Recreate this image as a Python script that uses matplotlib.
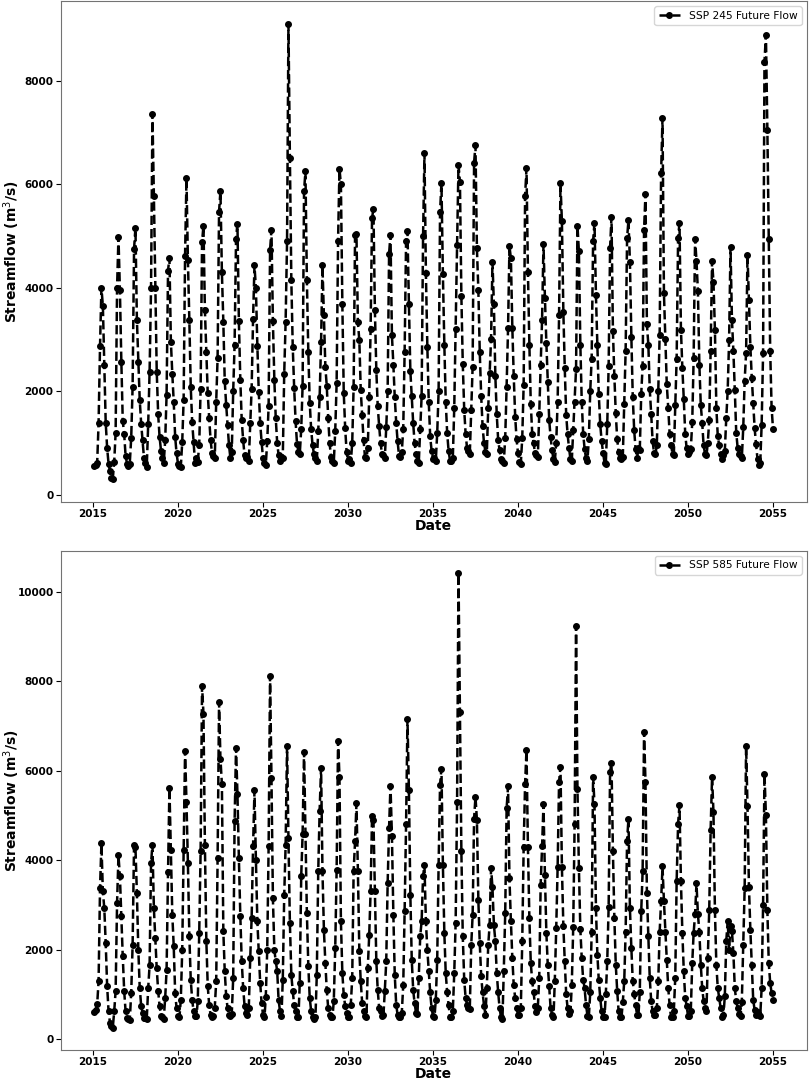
import numpy as np
import pandas as pd
import matplotlib
matplotlib.use("Agg")
import matplotlib.pyplot as plt

# monthly streamflow (m3/s), one row per year 2015..2054, Jan..Dec
YEARS = list(range(2015, 2055))

ssp245_flow = [
    [550, 580, 620, 1380, 2870, 4000, 3650, 2500, 1390, 900, 600, 450],    # 2015
    [330, 300, 640, 1190, 4000, 4980, 3950, 2570, 1430, 1170, 750, 600],
    [560, 600, 1100, 2090, 4750, 5160, 3380, 2570, 1830, 1370, 1050, 700],
    [620, 540, 1370, 2380, 4000, 7360, 5780, 4000, 2380, 1550, 1120, 850],
    [700, 620, 1050, 1930, 4330, 4580, 2960, 2330, 1800, 1120, 800, 600],
    [560, 530, 1020, 1830, 4620, 6120, 4530, 3370, 2080, 1400, 1020, 620],  # 2020
    [700, 640, 960, 2040, 4880, 5200, 3570, 2760, 1960, 1480, 1060, 800],
    [750, 700, 1800, 2650, 5470, 5870, 4300, 3340, 2200, 1740, 1350, 950],
    [700, 820, 2000, 2900, 4950, 5240, 3350, 2220, 1440, 1050, 760, 700],
    [720, 650, 1380, 2050, 3400, 4430, 3990, 2880, 1990, 1380, 1020, 700],
    [620, 580, 1030, 1710, 4730, 5120, 3350, 2220, 1480, 1000, 770, 650],   # 2025
    [730, 700, 2340, 3330, 4900, 9100, 6510, 4140, 2860, 2060, 1430, 980],
    [830, 780, 1260, 2100, 5870, 6250, 4140, 2750, 1780, 1260, 960, 780],
    [700, 650, 1230, 1880, 2950, 4430, 3470, 2470, 2100, 1490, 1000, 720],
    [660, 620, 1230, 2150, 4900, 6300, 6000, 3680, 1970, 1280, 830, 660],
    [690, 620, 1000, 2080, 5020, 5030, 3330, 2980, 2020, 1530, 1050, 720],  # 2030
    [700, 900, 1880, 3200, 5350, 5520, 3570, 2400, 1710, 1320, 1000, 780],
    [760, 700, 1300, 2000, 4660, 5020, 3080, 2510, 1880, 1390, 1030, 750],
    [720, 820, 1270, 2760, 4900, 5100, 3680, 2390, 1900, 1380, 1000, 780],
    [660, 620, 1260, 1900, 4990, 6600, 4280, 2860, 1800, 1130, 850, 680],
    [700, 650, 1190, 2000, 5470, 6020, 4260, 2900, 1800, 1190, 850, 660],   # 2035
    [660, 700, 1680, 3200, 4830, 6380, 6050, 3840, 2530, 1640, 1180, 900],
    [850, 790, 1640, 2470, 6420, 6750, 4760, 3950, 2760, 1900, 1320, 990],
    [830, 780, 1680, 2350, 3010, 4500, 3680, 2290, 1550, 1050, 860, 690],
    [660, 620, 1100, 2090, 3220, 4800, 4570, 3220, 2290, 1510, 1070, 800],
    [640, 600, 1100, 2120, 5770, 6310, 4300, 2900, 1760, 1180, 990, 800],   # 2040
    [760, 720, 1560, 2500, 3380, 4850, 3810, 2930, 2170, 1440, 1110, 860],
    [680, 640, 1000, 1800, 3470, 6020, 5280, 3540, 2450, 1540, 1170, 900],
    [680, 650, 1250, 1800, 2430, 5200, 4700, 2900, 1800, 1180, 890, 700],
    [660, 1070, 2010, 2630, 4900, 5260, 3860, 2900, 1940, 1360, 1040, 810],
    [620, 600, 1360, 2490, 4770, 5370, 3160, 2290, 1570, 1070, 820, 700],   # 2045
    [680, 720, 1760, 2780, 4960, 5310, 4500, 3050, 1890, 1240, 880, 700],
    [900, 860, 1950, 2490, 5120, 5820, 3290, 2900, 2040, 1560, 1040, 810],
    [780, 960, 2000, 3090, 6210, 7280, 3890, 3000, 2130, 1680, 1180, 960],
    [790, 760, 1730, 2630, 4960, 5250, 3190, 2440, 1850, 1180, 900, 790],
    [820, 880, 1400, 2640, 4950, 4520, 3930, 2510, 1740, 1390, 950, 790],   # 2050
    [760, 1000, 1440, 2770, 4520, 4110, 3190, 1680, 1140, 950, 790, 680],
    [760, 850, 1480, 2000, 2990, 4790, 3380, 2770, 2030, 1200, 910, 790],
    [750, 700, 1300, 2200, 2740, 4640, 3770, 2860, 2260, 1780, 1290, 970],
    [690, 580, 620, 1350, 2740, 8370, 8890, 7050, 4950, 2770, 1680, 1260],
]

ssp585_flow = [
    [600, 640, 780, 1290, 3370, 4375, 3300, 2920, 2140, 1180, 620, 360],   # 2015
    [290, 250, 620, 1070, 3040, 4110, 3640, 2750, 1850, 1070, 620, 470],
    [450, 420, 1030, 2100, 4350, 4290, 3260, 1990, 1140, 740, 580, 470],
    [470, 450, 1140, 1650, 3930, 4350, 2920, 2250, 1580, 1070, 740, 510],
    [480, 450, 920, 1540, 3730, 5620, 4220, 2770, 2080, 1030, 690, 510],
    [480, 870, 1990, 4220, 6450, 5310, 3930, 2300, 1320, 870, 620, 510],   # 2020
    [510, 850, 2370, 4200, 7900, 7280, 4350, 2190, 1180, 760, 540, 500],
    [510, 700, 1290, 4040, 7540, 6270, 5710, 2410, 1520, 960, 690, 540],
    [520, 560, 1360, 4870, 6520, 5490, 4040, 2750, 1740, 1140, 740, 580],
    [540, 690, 1810, 2700, 4310, 5560, 4000, 2630, 1960, 1250, 800, 540],
    [480, 940, 1990, 4310, 8130, 5850, 3150, 1990, 1740, 1520, 870, 620],  # 2025
    [510, 1320, 3210, 4330, 6560, 4490, 2590, 1430, 1070, 760, 620, 480],
    [480, 1250, 3640, 4580, 6430, 4580, 2810, 1630, 920, 620, 480, 450],
    [480, 1430, 3750, 5110, 6070, 3750, 2430, 1700, 1090, 690, 540, 480],
    [480, 850, 2030, 3770, 6670, 5870, 2630, 1470, 980, 740, 580, 500],
    [500, 760, 1360, 3750, 4420, 5270, 3750, 1960, 1290, 800, 620, 520],   # 2030
    [480, 1580, 2320, 3300, 4980, 4900, 3300, 1740, 1090, 690, 620, 520],
    [540, 1070, 1740, 3480, 4730, 5670, 4550, 2770, 1430, 760, 540, 480],
    [500, 580, 1200, 2860, 4800, 7160, 5560, 3210, 1770, 1090, 800, 580],
    [560, 1360, 2300, 2630, 3640, 3890, 2630, 1990, 1520, 1040, 690, 510],
    [480, 870, 1770, 3900, 5690, 6050, 3900, 2370, 1470, 1040, 760, 480],  # 2035
    [480, 620, 1470, 2600, 5310, 10420, 7320, 4200, 2300, 1320, 920, 760],
    [690, 660, 2100, 2770, 4930, 5420, 4900, 3100, 2140, 1400, 1040, 740],
    [540, 1140, 2100, 2550, 3820, 3390, 2550, 2190, 1470, 1040, 690, 480],
    [450, 1520, 2810, 5160, 5650, 3590, 2630, 1810, 1200, 920, 690, 540],
    [540, 690, 2190, 4290, 5710, 6470, 4290, 2700, 1700, 1290, 1040, 740], # 2040
    [600, 690, 1360, 3440, 4310, 5250, 3670, 2370, 1660, 1180, 690, 540],
    [480, 1290, 2480, 3840, 5760, 6090, 3840, 2520, 1740, 1000, 690, 560],
    [620, 1200, 2500, 4820, 9240, 5600, 3820, 2450, 1810, 1320, 1140, 760],
    [520, 480, 1040, 2400, 5870, 5250, 2920, 1880, 1320, 920, 620, 480],
    [480, 1000, 1740, 2960, 5980, 6180, 4200, 2700, 1660, 1070, 620, 480], # 2045
    [480, 820, 1290, 2400, 4440, 4930, 2920, 2030, 1290, 1000, 760, 540],
    [540, 1040, 2860, 3750, 6870, 5760, 3260, 2300, 1360, 850, 620, 540],
    [540, 690, 1290, 2400, 3080, 3860, 3080, 2400, 1770, 1140, 760, 480],
    [480, 620, 1360, 3530, 4820, 5230, 3530, 2370, 1520, 920, 740, 510],
    [520, 620, 1700, 2370, 2790, 3480, 2790, 2400, 1660, 1140, 850, 690],  # 2050
    [620, 1810, 2890, 4670, 5870, 5070, 2890, 1660, 1140, 920, 690, 480],
    [530, 960, 2190, 2630, 1990, 2520, 2410, 1920, 1140, 850, 690, 560],
    [515, 830, 2100, 3370, 6560, 5220, 3410, 2430, 1650, 870, 650, 540],
    [600, 530, 515, 1140, 2990, 5940, 5000, 2880, 1700, 1250, 1030, 870],
]

labels = ["SSP 245 Future Flow", "SSP 585 Future Flow"]

dates = pd.date_range(f"{YEARS[0]}-01-31", periods=12 * len(YEARS), freq="ME")

fig = plt.figure(figsize=(8.09, 10.84), dpi=100)
ax_top = fig.add_axes([0.0748, 0.537, 0.9227, 0.462])
ax_bot = fig.add_axes([0.0748, 0.031, 0.9227, 0.461])

for ax, rows, lbl in zip([ax_top, ax_bot], [ssp245_flow, ssp585_flow], labels):
    flow = np.array(rows, dtype=float).ravel()
    ax.plot(dates, flow, linestyle="--", color="black", marker="o",
            markersize=4, linewidth=1.8, label=lbl)
    ax.set_xlabel("Date", fontsize=10, fontweight="bold", labelpad=0)
    ax.set_ylabel(r"Streamflow (m$^3$/s)", fontsize=10, fontweight="bold")
    # same label column for both panels, clear of the left edge
    ax.yaxis.set_label_coords(-0.051, 0.5)
    ax.tick_params(labelsize=7.5, pad=1.5)
    for t in ax.get_xticklabels() + ax.get_yticklabels():
        t.set_fontweight("bold")
    for sp in ax.spines.values():
        sp.set_color("0.45")
    ax.legend(loc="upper right", fontsize=7.7)

fig.savefig("out.png", dpi=100)
